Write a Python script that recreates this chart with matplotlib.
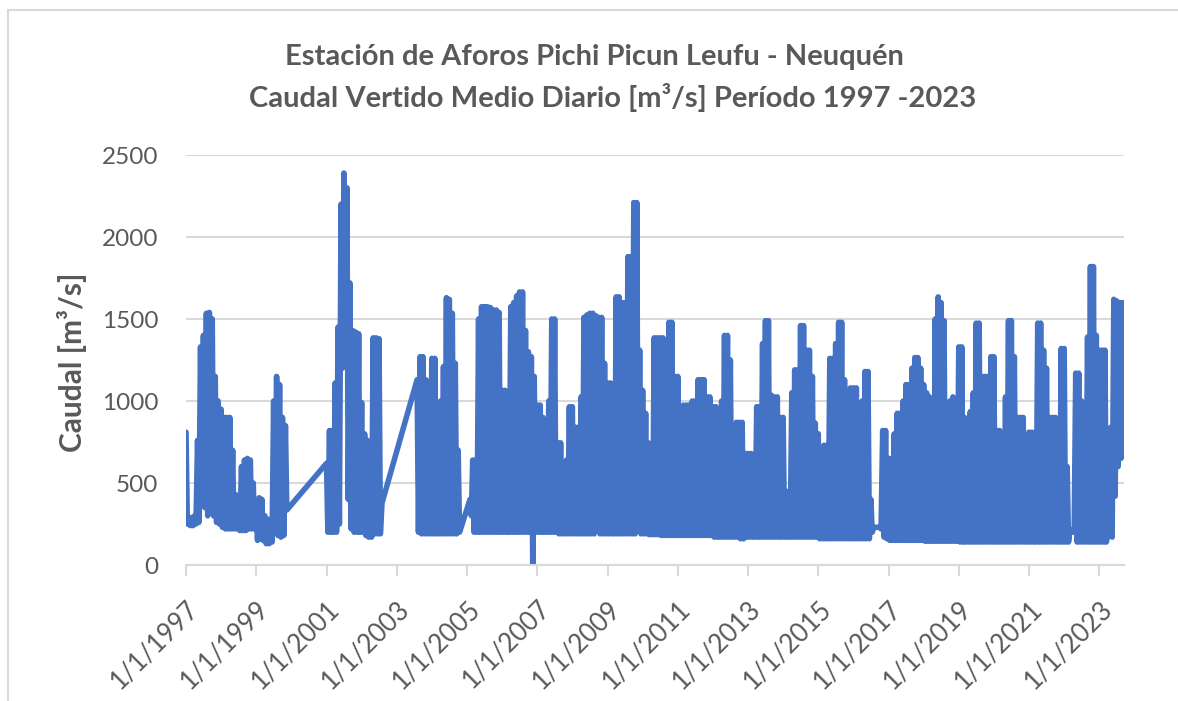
import pandas as pd
import matplotlib
matplotlib.use("Agg")
import matplotlib.pyplot as plt
import matplotlib.dates as mdates
from matplotlib.patches import Rectangle
from matplotlib.ticker import FuncFormatter

# monthly envelope: hi_ = top of the daily swings, lo_ = bottom
# None = no data (Excel joins the gap with a straight line)
hi_1997 = [810, 280, 290, 300, 760, 1330, 1400, 1535, 1540, 1500, 1150, 1000]
lo_1997 = [250, 240, 240, 250, 260, 420, 350, 300, 420, 300, 260, 250]
hi_1998 = [950, 900, 900, 900, 700, 430, 420, 600, 640, 650, 640, 500]
lo_1998 = [230, 220, 220, 220, 220, 220, 210, 210, 210, 220, 220, 220]
hi_1999 = [290, 410, 400, 300, 280, 270, 1000, 1150, 1100, 900, 850, None]
lo_1999 = [150, 160, 150, 130, 130, 140, 200, 180, 170, 180, 335, None]
hi_2000 = [None] * 12
lo_2000 = [None] * 12
hi_2001 = [620, 820, 820, 1110, 1450, 2200, 2390, 2300, 1720, 1430, 1420, 1410]
lo_2001 = [200, 200, 200, 200, 250, 1200, 1300, 400, 220, 200, 200, 200]
hi_2002 = [990, 800, 760, 750, 1385, 1385, 1380, 378, None, None, None, None]
lo_2002 = [200, 180, 170, 170, 190, 190, 190, None, None, None, None, None]
hi_2003 = [None, None, None, None, None, None, None, 1130, 1270, 1270, 1130, 1100]
lo_2003 = [None, None, None, None, None, None, None, 200, 190, 190, 190, 190]
hi_2004 = [1260, 1260, 990, 1000, 1210, 1630, 1620, 1535, 1230, 700, 230, None]
lo_2004 = [190, 190, 190, 190, 190, 190, 190, 190, 190, 200, None, None]
hi_2005 = [None, 400, 640, 640, 1500, 1575, 1575, 1575, 1570, 1555, 1555, 1540]
lo_2005 = [None, 300, 200, 200, 200, 200, 200, 200, 200, 200, 200, 200]
hi_2006 = [1065, 1065, 900, 1575, 1600, 1640, 1665, 1665, 1430, 1300, 1270, 1150]
lo_2006 = [200, 200, 200, 200, 200, 200, 200, 200, 200, 200, 0, 200]
hi_2007 = [975, 975, 900, 400, 1000, 1500, 1500, 745, 745, 600, 640, 965]
lo_2007 = [200, 200, 200, 200, 200, 200, 200, 190, 190, 190, 190, 190]
hi_2008 = [965, 840, 840, 1025, 1510, 1525, 1535, 1535, 1520, 1510, 1510, 1230]
lo_2008 = [190, 190, 190, 190, 190, 190, 190, 190, 400, 190, 190, 190]
hi_2009 = [1110, 1110, 745, 1635, 1635, 1600, 1600, 1880, 1880, 2210, 2210, 1310]
lo_2009 = [190, 190, 190, 190, 190, 190, 190, 190, 190, 190, 260, 190]
hi_2010 = [1065, 925, 745, 600, 1385, 1385, 1385, 1385, 1230, 1480, 1480, 1150]
lo_2010 = [190, 190, 185, 185, 185, 185, 180, 180, 180, 180, 180, 180]
hi_2011 = [1150, 550, 975, 975, 975, 1000, 1000, 1130, 1130, 1130, 1025, 1025]
lo_2011 = [180, 180, 180, 180, 180, 180, 180, 180, 180, 180, 180, 180]
hi_2012 = [965, 965, 660, 1000, 1400, 1400, 1250, 840, 870, 870, 870, 680]
lo_2012 = [170, 170, 170, 170, 170, 170, 170, 170, 170, 160, 160, 170]
hi_2013 = [680, 680, 400, 965, 965, 1350, 1490, 1490, 1035, 1025, 1025, 900]
lo_2013 = [170, 170, 170, 170, 170, 170, 170, 170, 170, 170, 170, 170]
hi_2014 = [900, 450, 300, 1050, 1190, 1190, 1460, 1460, 1310, 1310, 1150, 865]
lo_2014 = [170, 170, 170, 170, 170, 170, 170, 170, 170, 170, 170, 170]
hi_2015 = [800, 700, 730, 730, 1260, 1260, 1350, 1480, 1480, 1130, 900, 1080]
lo_2015 = [160, 160, 160, 160, 160, 160, 160, 160, 160, 160, 160, 160]
hi_2016 = [1080, 1080, 700, 1000, 1180, 1180, 400, 230, 230, 230, 820, 820]
lo_2016 = [160, 160, 160, 160, 160, 160, 200, 230, 230, 220, 170, 160]
hi_2017 = [650, 650, 800, 925, 925, 1000, 1100, 1100, 1200, 1265, 1265, 1200]
lo_2017 = [150, 150, 150, 150, 150, 150, 150, 150, 150, 150, 150, 150]
hi_2018 = [1100, 1050, 1025, 840, 1500, 1635, 1600, 1490, 840, 1000, 1025, 900]
lo_2018 = [145, 145, 145, 145, 145, 145, 145, 145, 145, 145, 145, 145]
hi_2019 = [1330, 1330, 900, 600, 935, 1050, 1475, 1475, 1150, 1150, 1150, 1270]
lo_2019 = [140, 140, 140, 140, 140, 140, 140, 140, 140, 140, 140, 140]
hi_2020 = [1270, 820, 820, 640, 1025, 1490, 1490, 1270, 900, 900, 900, 700]
lo_2020 = [140, 140, 140, 140, 140, 140, 140, 140, 140, 140, 140, 140]
hi_2021 = [810, 810, 600, 1475, 1475, 1310, 1200, 900, 900, 900, 720, 1320]
lo_2021 = [140, 140, 140, 140, 140, 140, 140, 140, 140, 140, 140, 140]
hi_2022 = [1320, 600, 215, 215, 1170, 1170, 1000, 900, 1390, 1820, 1820, 1400]
lo_2022 = [140, 140, 200, 200, 140, 140, 140, 140, 140, 140, 140, 140]
hi_2023 = [1310, 1310, 1310, 200, 840, 1620, 1610, 1600, 1600, None, None, None]
lo_2023 = [140, 140, 140, 180, 170, 420, 600, 650, 680, None, None, None]

years = list(range(1997, 2024))
tick_years = list(range(1997, 2024, 2))
highs = [hi_1997, hi_1998, hi_1999, hi_2000, hi_2001, hi_2002, hi_2003, hi_2004, hi_2005,
         hi_2006, hi_2007, hi_2008, hi_2009, hi_2010, hi_2011, hi_2012, hi_2013, hi_2014,
         hi_2015, hi_2016, hi_2017, hi_2018, hi_2019, hi_2020, hi_2021, hi_2022, hi_2023]
lows = [lo_1997, lo_1998, lo_1999, lo_2000, lo_2001, lo_2002, lo_2003, lo_2004, lo_2005,
        lo_2006, lo_2007, lo_2008, lo_2009, lo_2010, lo_2011, lo_2012, lo_2013, lo_2014,
        lo_2015, lo_2016, lo_2017, lo_2018, lo_2019, lo_2020, lo_2021, lo_2022, lo_2023]

dates, caudal = [], []
for yr, hrow, lrow in zip(years, highs, lows):
    for m in range(12):
        if hrow[m] is not None:
            dates.append(pd.Timestamp(yr, m + 1, 1))
            caudal.append(hrow[m])
        if lrow[m] is not None:
            dates.append(pd.Timestamp(yr, m + 1, 15))
            caudal.append(lrow[m])

plt.rcParams['font.family'] = ['Lato', 'DejaVu Sans']
GREY = '#595959'
LINE = '#d9d9d9'

fig = plt.figure(figsize=(11.78, 7.01), dpi=100)
fig.patches.append(Rectangle((8 / 1178, -0.05), 1.2, 1.05 - 10 / 701, transform=fig.transFigure,
                             fill=False, edgecolor=LINE, lw=1.5))

ax = fig.add_axes([186 / 1178, 1 - 565 / 701, (1124 - 186) / 1178, (565 - 155) / 701])
ax.plot(dates, caudal, color='#4472C4', lw=4, solid_joinstyle='round', solid_capstyle='round')

ax.set_ylim(0, 2500)
ax.set_yticks([0, 500, 1000, 1500, 2000, 2500])
ax.set_xlim(pd.Timestamp(1997, 1, 1), pd.Timestamp(2023, 9, 15))
ax.set_xticks([pd.Timestamp(y, 1, 1) for y in tick_years])
ax.xaxis.set_major_formatter(FuncFormatter(
    lambda v, pos: "{0.month}/{0.day}/{0.year}".format(mdates.num2date(v))))

ax.set_axisbelow(True)
ax.yaxis.grid(True, color=LINE, lw=1.5)
for s in ['top', 'right', 'left']:
    ax.spines[s].set_visible(False)
ax.spines['bottom'].set_color(LINE)
ax.spines['bottom'].set_linewidth(1.5)
ax.tick_params(axis='y', length=0, pad=20, labelsize=17.5, labelcolor=GREY)
ax.tick_params(axis='x', length=8, width=1.5, color=LINE, pad=14, labelsize=18.5, labelcolor=GREY)
for lab in ax.get_xticklabels():
    lab.set_rotation(45)
    lab.set_ha('right')
    lab.set_rotation_mode('anchor')

fig.text(0.505, 1 - 57 / 701, 'Estación de Aforos Pichi Picun Leufu - Neuquén',
         ha='center', va='center', fontsize=21, weight='bold', color=GREY)
fig.text(0.52, 1 - 98 / 701, 'Caudal Vertido Medio Diario [m³/s] Período 1997 -2023',
         ha='center', va='center', fontsize=21, weight='bold', color=GREY)
fig.text(72 / 1178, 1 - 362 / 701, 'Caudal [m³/s]', rotation=90,
         ha='center', va='center', fontsize=21.5, weight='bold', color=GREY)

fig.savefig('out.png', dpi=100)
